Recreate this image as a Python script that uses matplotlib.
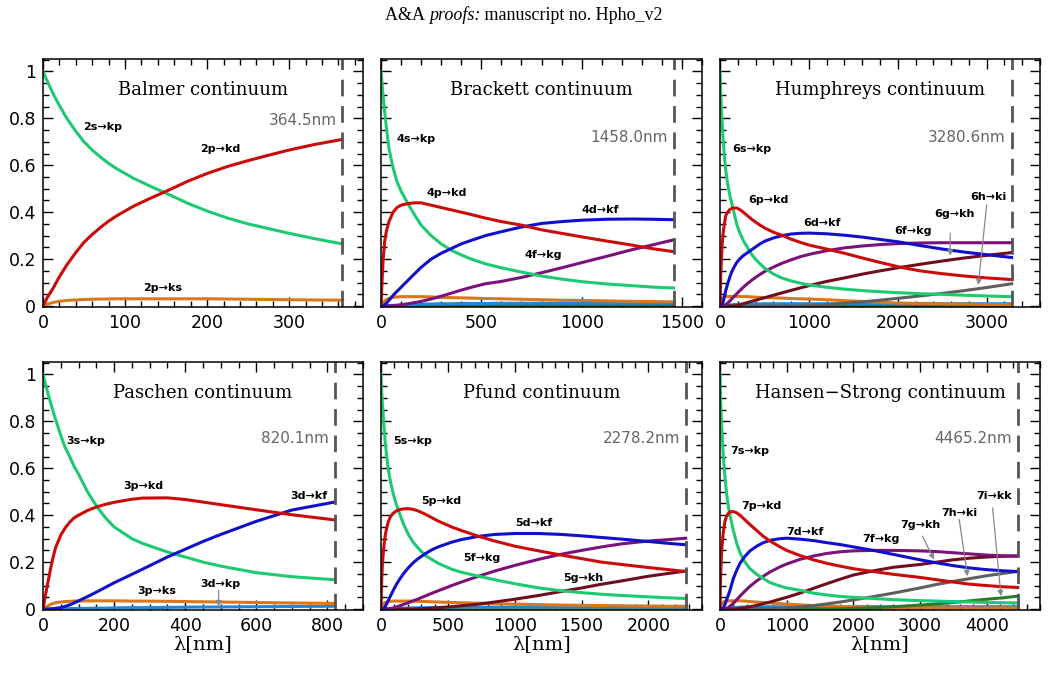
import matplotlib
matplotlib.use('Agg')
import matplotlib.pyplot as plt
from matplotlib.ticker import MultipleLocator, FuncFormatter

# colours of the transitions
GREEN = '#1dc971'
RED = '#cc0a0a'
BLUE = '#1010cc'
PURPLE = '#7a127a'
MAROON = '#6e0f1e'
GRAY = '#5f5f5f'
DGREEN = '#2a7a2a'
ORANGE = '#d9771c'
LBLUE = '#1f86db'
OLIVE = '#8c8c10'

# ---------------- Balmer ----------------
bal_wl = [0, 5, 13, 20, 29, 40, 50, 60, 70, 80, 90, 110, 130, 146, 160, 175, 200, 225, 250, 275, 300,
          330, 364.5]
bal_2s_kp = [1.0, 0.96, 0.90, 0.855, 0.80, 0.745, 0.70, 0.665, 0.635, 0.608, 0.585, 0.545, 0.512, 0.487,
             0.465, 0.44, 0.405, 0.375, 0.35, 0.33, 0.31, 0.288, 0.265]
bal_2p_kd = [0.0, 0.035, 0.08, 0.125, 0.175, 0.228, 0.272, 0.305, 0.335, 0.362, 0.385, 0.425, 0.458, 0.483,
             0.505, 0.53, 0.565, 0.595, 0.62, 0.643, 0.665, 0.688, 0.71]
bal_2p_ks = [0.0, 0.008, 0.016, 0.02, 0.024, 0.026, 0.028, 0.029, 0.03, 0.03, 0.031, 0.031, 0.031, 0.031,
             0.031, 0.031, 0.031, 0.03, 0.029, 0.028, 0.027, 0.026, 0.025]

# ---------------- Paschen ----------------
pas_wl = [0, 5, 12, 25, 35, 50, 62, 75, 87, 100, 125, 150, 175, 200, 250, 280, 350, 400, 450, 500, 600,
          700, 820.1]
pas_3s_kp = [1.0, 0.97, 0.93, 0.86, 0.81, 0.74, 0.69, 0.65, 0.61, 0.575, 0.50, 0.44, 0.39, 0.35, 0.30,
             0.28, 0.243, 0.222, 0.2, 0.183, 0.155, 0.138, 0.125]
pas_3p_kd = [0.0, 0.045, 0.10, 0.20, 0.26, 0.315, 0.345, 0.37, 0.388, 0.40, 0.42, 0.435, 0.446, 0.455,
             0.468, 0.473, 0.474, 0.467, 0.456, 0.445, 0.423, 0.402, 0.38]
pas_3d_kf = [0.0, 0.0, 0.0, 0.001, 0.003, 0.006, 0.011, 0.018, 0.026, 0.035, 0.053, 0.072, 0.092, 0.112,
             0.148, 0.17, 0.222, 0.255, 0.288, 0.318, 0.374, 0.422, 0.456]
pas_3p_ks = [0.0, 0.005, 0.012, 0.022, 0.027, 0.03, 0.032, 0.033, 0.034, 0.034, 0.035, 0.035, 0.035, 0.035,
             0.034, 0.034, 0.033, 0.032, 0.031, 0.03, 0.028, 0.026, 0.024]
pas_3d_kp = [0.0, 0.0, 0.0, 0.0, 0.0, 0.001, 0.001, 0.002, 0.002, 0.003, 0.003, 0.004, 0.004, 0.005,
             0.006, 0.006, 0.007, 0.008, 0.0085, 0.009, 0.01, 0.011, 0.012]

# ---------------- Brackett ----------------
brk_wl = [0, 5, 10, 18, 27, 40, 60, 80, 100, 135, 170, 200, 250, 300, 350, 400, 450, 520, 600, 700,
          800, 900, 1000, 1125, 1250, 1350, 1458.0]
brk_4s_kp = [1.0, 0.95, 0.90, 0.83, 0.76, 0.67, 0.59, 0.53, 0.49, 0.435, 0.385, 0.345, 0.30, 0.265, 0.238,
             0.218, 0.2, 0.18, 0.163, 0.145, 0.128, 0.115, 0.104, 0.094, 0.087, 0.081, 0.077]
brk_4p_kd = [0.0, 0.10, 0.19, 0.274, 0.32, 0.36, 0.40, 0.42, 0.43, 0.437, 0.44, 0.44, 0.43, 0.42, 0.41,
             0.40, 0.39, 0.375, 0.36, 0.345, 0.325, 0.31, 0.295, 0.277, 0.26, 0.245, 0.232]
brk_4d_kf = [0.0, 0.0, 0.002, 0.006, 0.012, 0.025, 0.045, 0.063, 0.08, 0.11, 0.14, 0.165, 0.2, 0.225, 0.245,
             0.265, 0.28, 0.3, 0.317, 0.337, 0.352, 0.36, 0.366, 0.37, 0.371, 0.37, 0.368]
brk_4f_kg = [0, 0, 0, 0, 0, 0, 0.001, 0.003, 0.005, 0.01, 0.015, 0.02, 0.03, 0.042, 0.055,
             0.068, 0.08, 0.095, 0.105, 0.122, 0.142, 0.163, 0.185, 0.212, 0.24, 0.26, 0.282]
brk_4p_ks = [0, 0.008, 0.015, 0.022, 0.028, 0.033, 0.037, 0.039, 0.04, 0.04, 0.04, 0.04, 0.039, 0.037, 0.036,
             0.035, 0.034, 0.032, 0.031, 0.029, 0.027, 0.025, 0.024, 0.022, 0.02, 0.019, 0.018]
brk_4d_kp = [0, 0, 0, 0.001, 0.001, 0.002, 0.003, 0.004, 0.005, 0.006, 0.007, 0.008, 0.009, 0.01, 0.01,
             0.011, 0.011, 0.011, 0.012, 0.012, 0.012, 0.012, 0.012, 0.012, 0.012, 0.012, 0.012]
brk_4f_kd = [0, 0, 0, 0, 0, 0, 0.001, 0.001, 0.001, 0.001, 0.002, 0.002, 0.002, 0.002, 0.002,
             0.003, 0.003, 0.003, 0.003, 0.003, 0.003, 0.003, 0.003, 0.003, 0.003, 0.003, 0.003]

# ---------------- Humphreys ----------------
hum_wl = [0, 5, 10, 19, 26, 37, 49, 64, 86, 112, 131, 150, 187, 220, 262, 300, 356, 400, 450, 506,
          600, 694, 800, 900, 1000, 1200, 1400, 1600, 1800, 2000, 2250, 2500, 2750, 3000, 3280.6]
hum_6s_kp = [1.0, 0.94, 0.89, 0.82, 0.77, 0.70, 0.64, 0.58, 0.52, 0.47, 0.44, 0.41, 0.35, 0.315, 0.28,
             0.255, 0.22, 0.20, 0.18, 0.16, 0.137, 0.12, 0.107, 0.098, 0.09, 0.08, 0.072, 0.066, 0.061,
             0.057, 0.053, 0.05, 0.046, 0.043, 0.04]
hum_6p_kd = [0.0, 0.08, 0.15, 0.22, 0.27, 0.316, 0.35, 0.385, 0.40, 0.412, 0.416, 0.418, 0.418, 0.412, 0.40,
             0.388, 0.37, 0.358, 0.345, 0.332, 0.315, 0.302, 0.285, 0.272, 0.26, 0.243, 0.225, 0.205, 0.186,
             0.168, 0.15, 0.138, 0.128, 0.12, 0.113]
hum_6d_kf = [0, 0, 0, 0.001, 0.005, 0.02, 0.04, 0.065, 0.095, 0.125, 0.145, 0.16, 0.185, 0.2, 0.215,
             0.225, 0.24, 0.252, 0.265, 0.277, 0.29, 0.3, 0.307, 0.31, 0.311, 0.308, 0.302, 0.294, 0.284,
             0.274, 0.258, 0.243, 0.23, 0.219, 0.207]
hum_6f_kg = [0, 0, 0, 0, 0, 0, 0.002, 0.006, 0.013, 0.022, 0.03, 0.038, 0.052, 0.065, 0.08,
             0.093, 0.11, 0.122, 0.135, 0.148, 0.166, 0.182, 0.197, 0.21, 0.22, 0.236, 0.248, 0.256, 0.262,
             0.266, 0.269, 0.27, 0.27, 0.27, 0.27]
hum_6g_kh = [0, 0, 0, 0, 0, 0, 0, 0, 0, 0, 0, 0, 0.002, 0.005, 0.01,
             0.014, 0.02, 0.025, 0.03, 0.036, 0.046, 0.056, 0.067, 0.077, 0.087, 0.105, 0.12, 0.136, 0.15,
             0.163, 0.178, 0.192, 0.205, 0.216, 0.228]
hum_6h_ki = [0, 0, 0, 0, 0, 0, 0, 0, 0, 0, 0, 0, 0, 0, 0,
             0, 0, 0, 0, 0, 0, 0, 0, 0, 0.002, 0.006, 0.012, 0.018, 0.025,
             0.033, 0.043, 0.054, 0.066, 0.079, 0.095]
hum_6p_ks = [0, 0.01, 0.018, 0.027, 0.032, 0.036, 0.038, 0.04, 0.041, 0.041, 0.041, 0.041, 0.041, 0.041, 0.04,
             0.04, 0.039, 0.038, 0.037, 0.036, 0.035, 0.034, 0.032, 0.031, 0.03, 0.027, 0.023, 0.02, 0.016,
             0.013, 0.011, 0.009, 0.008, 0.007, 0.006]
hum_6d_kp = [0, 0, 0, 0, 0.001, 0.001, 0.002, 0.003, 0.004, 0.005, 0.005, 0.006, 0.007, 0.007, 0.008,
             0.008, 0.009, 0.009, 0.009, 0.01, 0.01, 0.01, 0.01, 0.01, 0.01, 0.01, 0.01, 0.01, 0.01,
             0.01, 0.01, 0.01, 0.01, 0.01, 0.01]
hum_6f_kd = [0, 0, 0, 0, 0, 0, 0, 0.001, 0.001, 0.001, 0.002, 0.002, 0.002, 0.002, 0.003,
             0.003, 0.003, 0.003, 0.003, 0.003, 0.003, 0.003, 0.003, 0.003, 0.003, 0.003, 0.003, 0.003, 0.003,
             0.003, 0.003, 0.003, 0.003, 0.003, 0.003]

# ---------------- Pfund ----------------
pf_wl = [0, 5, 10, 15, 22, 33, 53, 70, 90, 115, 140, 170, 203, 240, 278, 328, 378, 428, 528, 600,
         729, 850, 1000, 1179, 1350, 1500, 1650, 1800, 2000, 2150, 2278.2]
pf_5s_kp = [1.0, 0.93, 0.88, 0.84, 0.78, 0.70, 0.60, 0.545, 0.495, 0.445, 0.405, 0.36, 0.32, 0.285, 0.26,
            0.23, 0.212, 0.195, 0.17, 0.157, 0.14, 0.125, 0.108, 0.09, 0.078, 0.07, 0.063, 0.058, 0.052,
            0.048, 0.045]
pf_5p_kd = [0.0, 0.12, 0.185, 0.225, 0.27, 0.32, 0.37, 0.393, 0.408, 0.418, 0.424, 0.427, 0.428, 0.425, 0.418,
            0.405, 0.39, 0.375, 0.35, 0.335, 0.31, 0.29, 0.268, 0.248, 0.23, 0.215, 0.2, 0.19, 0.177,
            0.168, 0.16]
pf_5d_kf = [0, 0, 0, 0, 0.003, 0.012, 0.035, 0.055, 0.078, 0.105, 0.128, 0.152, 0.175, 0.197, 0.215,
            0.235, 0.252, 0.265, 0.285, 0.296, 0.31, 0.318, 0.322, 0.322, 0.318, 0.312, 0.305, 0.298, 0.288,
            0.28, 0.274]
pf_5f_kg = [0, 0, 0, 0, 0, 0, 0, 0.002, 0.005, 0.009, 0.014, 0.02, 0.027, 0.035, 0.043,
            0.055, 0.067, 0.078, 0.1, 0.115, 0.14, 0.162, 0.186, 0.212, 0.234, 0.25, 0.265, 0.278, 0.29,
            0.296, 0.302]
pf_5g_kh = [0, 0, 0, 0, 0, 0, 0, 0, 0, 0, 0, 0, 0, 0, 0.001,
            0.002, 0.004, 0.006, 0.01, 0.014, 0.021, 0.03, 0.042, 0.058, 0.075, 0.09, 0.106, 0.12, 0.14,
            0.152, 0.162]
pf_5p_ks = [0, 0.01, 0.016, 0.02, 0.024, 0.028, 0.031, 0.033, 0.034, 0.034, 0.034, 0.034, 0.034, 0.034, 0.033,
            0.032, 0.031, 0.03, 0.028, 0.027, 0.025, 0.023, 0.021, 0.019, 0.017, 0.016, 0.015, 0.014, 0.013,
            0.012, 0.012]
pf_5d_kp = [0, 0, 0, 0, 0, 0.001, 0.001, 0.002, 0.002, 0.003, 0.003, 0.004, 0.004, 0.005, 0.005,
            0.006, 0.006, 0.007, 0.007, 0.008, 0.008, 0.008, 0.008, 0.008, 0.008, 0.008, 0.008, 0.008, 0.008,
            0.008, 0.008]
pf_5f_kd = [0, 0, 0, 0, 0, 0, 0, 0, 0, 0.001, 0.001, 0.001, 0.001, 0.001, 0.001,
            0.002, 0.002, 0.002, 0.002, 0.002, 0.002, 0.002, 0.002, 0.002, 0.002, 0.002, 0.002, 0.002, 0.002,
            0.002, 0.002]

# ---------------- Hansen-Strong ----------------
hs_wl = [0, 5, 12, 25, 50, 75, 100, 125, 150, 200, 250, 300, 375, 450, 550, 650, 750, 900, 1000, 1200,
         1400, 1600, 1800, 2000, 2300, 2600, 3000, 3250, 3500, 3750, 4000, 4250, 4465.2]
hs_7s_kp = [1.0, 0.94, 0.87, 0.78, 0.65, 0.56, 0.49, 0.44, 0.40, 0.335, 0.28, 0.24, 0.2, 0.172, 0.148,
            0.13, 0.113, 0.098, 0.09, 0.08, 0.068, 0.06, 0.054, 0.05, 0.045, 0.04, 0.036, 0.034, 0.032,
            0.03, 0.028, 0.027, 0.026]
hs_7p_kd = [0.0, 0.08, 0.16, 0.25, 0.33, 0.375, 0.397, 0.408, 0.414, 0.416, 0.41, 0.4, 0.38, 0.36, 0.335,
            0.31, 0.29, 0.265, 0.25, 0.228, 0.21, 0.195, 0.183, 0.172, 0.16, 0.148, 0.135, 0.125, 0.115,
            0.106, 0.1, 0.095, 0.092]
hs_7d_kf = [0, 0, 0, 0, 0.005, 0.02, 0.04, 0.06, 0.08, 0.13, 0.165, 0.195, 0.225, 0.248, 0.268,
            0.283, 0.293, 0.3, 0.302, 0.298, 0.292, 0.283, 0.275, 0.265, 0.25, 0.233, 0.21, 0.197, 0.185,
            0.175, 0.168, 0.163, 0.16]
hs_7f_kg = [0, 0, 0, 0, 0, 0, 0.003, 0.007, 0.012, 0.025, 0.04, 0.055, 0.077, 0.097, 0.12,
            0.14, 0.158, 0.18, 0.192, 0.212, 0.226, 0.237, 0.244, 0.248, 0.25, 0.25, 0.248, 0.245, 0.24,
            0.235, 0.23, 0.227, 0.225]
hs_7g_kh = [0, 0, 0, 0, 0, 0, 0, 0, 0, 0, 0.001, 0.003, 0.006, 0.01, 0.016,
            0.023, 0.03, 0.042, 0.05, 0.068, 0.088, 0.108, 0.127, 0.145, 0.163, 0.178, 0.19, 0.2, 0.21,
            0.217, 0.222, 0.225, 0.227]
hs_7h_ki = [0, 0, 0, 0, 0, 0, 0, 0, 0, 0, 0, 0, 0, 0, 0,
            0, 0, 0.002, 0.004, 0.009, 0.015, 0.022, 0.03, 0.039, 0.053, 0.068, 0.09, 0.105, 0.118,
            0.13, 0.142, 0.152, 0.16]
hs_7i_kk = [0, 0, 0, 0, 0, 0, 0, 0, 0, 0, 0, 0, 0, 0, 0,
            0, 0, 0, 0, 0, 0, 0, 0.001, 0.003, 0.006, 0.01, 0.017, 0.022, 0.028,
            0.035, 0.042, 0.048, 0.055]
hs_7p_ks = [0, 0.008, 0.016, 0.024, 0.03, 0.033, 0.035, 0.035, 0.035, 0.035, 0.035, 0.035, 0.034, 0.032, 0.03,
            0.028, 0.026, 0.023, 0.021, 0.018, 0.015, 0.013, 0.011, 0.01, 0.008, 0.007, 0.006, 0.006, 0.005,
            0.005, 0.005, 0.005, 0.005]
hs_7d_kp = [0, 0, 0, 0, 0.001, 0.002, 0.003, 0.004, 0.005, 0.006, 0.007, 0.008, 0.009, 0.01, 0.01,
            0.01, 0.01, 0.01, 0.01, 0.01, 0.01, 0.01, 0.01, 0.01, 0.01, 0.01, 0.01, 0.01, 0.01,
            0.01, 0.01, 0.01, 0.01]
hs_7f_kd = [0, 0, 0, 0, 0, 0, 0.001, 0.001, 0.001, 0.002, 0.002, 0.003, 0.003, 0.004, 0.004,
            0.004, 0.004, 0.004, 0.004, 0.004, 0.004, 0.004, 0.004, 0.004, 0.004, 0.004, 0.004, 0.004, 0.004,
            0.004, 0.004, 0.004, 0.004]

# panel settings: title, edge, xmax, major, minor, curves, labels, arrows, edge-label height
panels = [
    dict(title='Balmer continuum', edge=364.5, xmax=390, major=100, minor=20, edge_y=0.75,
         curves=[(bal_wl, bal_2p_ks, ORANGE), (bal_wl, bal_2s_kp, GREEN), (bal_wl, bal_2p_kd, RED)],
         labels=[('2s→kp', 73, 0.763), ('2p→kd', 216, 0.671), ('2p→ks', 146, 0.075)],
         arrows=[]),
    dict(title='Brackett continuum', edge=1458.0, xmax=1600, major=500, minor=100, edge_y=0.685,
         curves=[(brk_wl, brk_4f_kd, DGREEN), (brk_wl, brk_4d_kp, LBLUE), (brk_wl, brk_4p_ks, ORANGE),
                 (brk_wl, brk_4f_kg, PURPLE), (brk_wl, brk_4s_kp, GREEN), (brk_wl, brk_4d_kf, BLUE),
                 (brk_wl, brk_4p_kd, RED)],
         labels=[('4s→kp', 175, 0.713), ('4p→kd', 325, 0.48), ('4d→kf', 1092, 0.409), ('4f→kg', 808, 0.217)],
         arrows=[]),
    dict(title='Humphreys continuum', edge=3280.6, xmax=3600, major=1000, minor=200, edge_y=0.685,
         curves=[(hum_wl, hum_6f_kd, DGREEN), (hum_wl, hum_6d_kp, LBLUE), (hum_wl, hum_6p_ks, ORANGE),
                 (hum_wl, hum_6h_ki, GRAY), (hum_wl, hum_6g_kh, MAROON), (hum_wl, hum_6f_kg, PURPLE),
                 (hum_wl, hum_6s_kp, GREEN), (hum_wl, hum_6d_kf, BLUE), (hum_wl, hum_6p_kd, RED)],
         labels=[('6s→kp', 356, 0.671), ('6p→kd', 544, 0.451), ('6d→kf', 1144, 0.355), ('6f→kg', 2175, 0.32),
                 ('6g→kh', 2643, 0.394), ('6h→ki', 3018, 0.465)],
         arrows=[((2590, 0.31), (2590, 0.215)), ((3000, 0.43), (2906, 0.09))]),
    dict(title='Paschen continuum', edge=820.1, xmax=900, major=200, minor=50, edge_y=0.69,
         curves=[(pas_wl, pas_3d_kp, LBLUE), (pas_wl, pas_3p_ks, ORANGE), (pas_wl, pas_3s_kp, GREEN),
                 (pas_wl, pas_3d_kf, BLUE), (pas_wl, pas_3p_kd, RED)],
         labels=[('3s→kp', 119, 0.715), ('3p→kd', 283, 0.523), ('3d→kf', 747, 0.481), ('3p→ks', 319, 0.077),
                 ('3d→kp', 499, 0.108)],
         arrows=[((494, 0.08), (494, 0.012))]),
    dict(title='Pfund continuum', edge=2278.2, xmax=2400, major=500, minor=100, edge_y=0.69,
         curves=[(pf_wl, pf_5f_kd, OLIVE), (pf_wl, pf_5d_kp, LBLUE), (pf_wl, pf_5p_ks, ORANGE),
                 (pf_wl, pf_5g_kh, MAROON), (pf_wl, pf_5f_kg, PURPLE), (pf_wl, pf_5s_kp, GREEN),
                 (pf_wl, pf_5d_kf, BLUE), (pf_wl, pf_5p_kd, RED)],
         labels=[('5s→kp', 238, 0.715), ('5p→kd', 451, 0.46), ('5d→kf', 1139, 0.367), ('5f→kg', 751, 0.218),
                 ('5g→kh', 1515, 0.133)],
         arrows=[]),
    dict(title='Hansen−Strong continuum', edge=4465.2, xmax=4800, major=1000, minor=200, edge_y=0.69,
         curves=[(hs_wl, hs_7f_kd, OLIVE), (hs_wl, hs_7d_kp, LBLUE), (hs_wl, hs_7p_ks, ORANGE),
                 (hs_wl, hs_7i_kk, DGREEN), (hs_wl, hs_7h_ki, GRAY), (hs_wl, hs_7g_kh, MAROON),
                 (hs_wl, hs_7f_kg, PURPLE), (hs_wl, hs_7s_kp, GREEN), (hs_wl, hs_7d_kf, BLUE),
                 (hs_wl, hs_7p_kd, RED)],
         labels=[('7s→kp', 452, 0.672), ('7p→kd', 627, 0.438), ('7d→kf', 1280, 0.329), ('7f→kg', 2408, 0.297),
                 ('7g→kh', 3010, 0.36), ('7h→ki', 3588, 0.41), ('7i→kk', 4114, 0.481)],
         arrows=[((3036, 0.311), (3211, 0.211)), ((3588, 0.382), (3713, 0.14)), ((4089, 0.431), (4215, 0.055))]),
]

W, H = 1048, 679
cols = [(43, 363), (381, 702), (720, 1040)]
rows = [(59, 307), (362, 610)]

fig = plt.figure(figsize=(W / 100, H / 100), dpi=100)
fmt = FuncFormatter(lambda v, p: '%g' % v)

for i, p in enumerate(panels):
    (l, r), (t, b) = cols[i % 3], rows[i // 3]
    ax = fig.add_axes([l / W, 1 - b / H, (r - l) / W, (b - t) / H])
    for x, y, c in p['curves']:
        ax.plot(x, y, color=c, lw=2.2)
    ax.axvline(p['edge'], color='#555555', lw=2, linestyle=(0, (6, 3.5)))
    ax.set_xlim(0, p['xmax'])
    ax.set_ylim(-0.004, 1.053)
    ax.xaxis.set_major_locator(MultipleLocator(p['major']))
    ax.xaxis.set_minor_locator(MultipleLocator(p['minor']))
    ax.yaxis.set_major_locator(MultipleLocator(0.2))
    ax.yaxis.set_minor_locator(MultipleLocator(0.05))
    ax.xaxis.set_major_formatter(fmt)
    ax.yaxis.set_major_formatter(fmt)
    ax.tick_params(which='both', direction='in', top=True, right=True, width=1.0, labelsize=12.5, pad=5)
    ax.tick_params(which='major', length=7)
    ax.tick_params(which='minor', length=4)
    if i % 3 != 0:
        ax.tick_params(labelleft=False)
    for s in ax.spines.values():
        s.set_linewidth(1.1)
    ax.text(0.5, 0.877, p['title'], transform=ax.transAxes, ha='center', va='center',
            family='DejaVu Serif', fontsize=13)
    ax.annotate('%.1fnm' % p['edge'], xy=(p['edge'], p['edge_y']), xycoords=('data', 'axes fraction'),
                xytext=(-4, 0), textcoords='offset points', ha='right', va='center',
                fontsize=11, color='#666666')
    for txt, x, y in p['labels']:
        ax.text(x, y, txt, ha='center', va='center', fontsize=8, fontweight='bold')
    for tail, head in p['arrows']:
        ax.annotate('', xy=head, xytext=tail,
                    arrowprops=dict(arrowstyle='-|>', color='#888888', lw=0.9, mutation_scale=8,
                                    shrinkA=0, shrinkB=0))
    if i >= 3:
        ax.set_xlabel('λ[nm]', family='DejaVu Serif', fontsize=14, labelpad=0)

# running header of the journal page
fig.canvas.draw()
rend = fig.canvas.get_renderer()
parts = [('A&A ', 'normal'), ('proofs:', 'italic'), (' manuscript no. Hpho_v2', 'normal')]
texts = [fig.text(0, 1 - 15 / H, s, family='Liberation Serif', style=st, fontsize=13, va='center')
         for s, st in parts]
widths = [tx.get_window_extent(rend).width for tx in texts]
x0 = 524 - sum(widths) / 2
for tx, w in zip(texts, widths):
    tx.set_x(x0 / W)
    x0 += w

fig.savefig('out.png', dpi=100)
